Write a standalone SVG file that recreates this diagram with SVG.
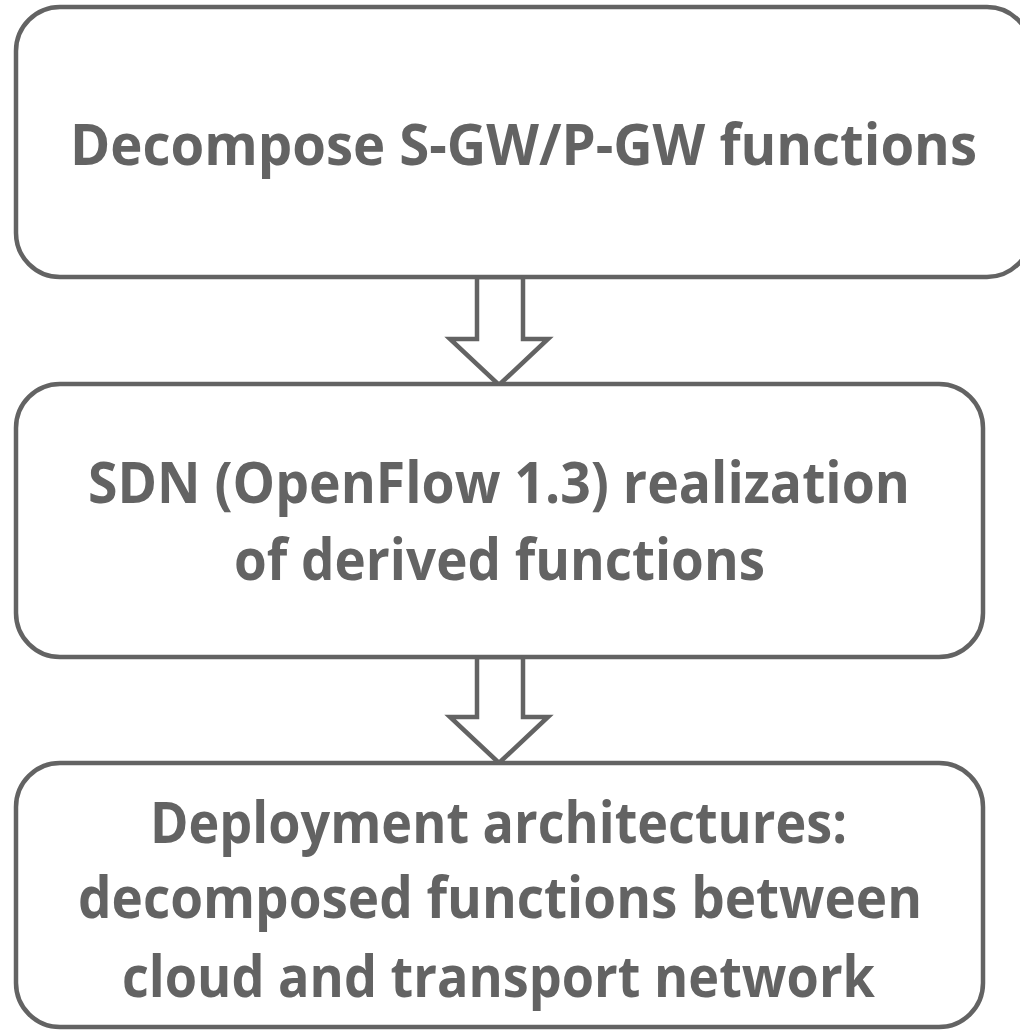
<svg xmlns="http://www.w3.org/2000/svg" width="1020" height="1032" viewBox="0 0 1020 1032">
<style>
.box{fill:#ffffff;stroke:#636363;stroke-width:4.5}
.arr{fill:#ffffff;stroke:#636363;stroke-width:4.5;stroke-linejoin:miter}
.t{font-family:"Open Sans","Liberation Sans",sans-serif;font-weight:bold;font-size:57px;fill:#636363;text-anchor:middle}
</style>
<rect width="1020" height="1032" fill="#ffffff"/>
<g id="connectors">
<polygon class="arr" points="477,277 523,277 523,339 548,339 499,385 450,339 477,339"/>
<polygon class="arr" points="477,657 523,657 523,717 548,717 499,763 450,717 477,717"/>
</g>
<g id="node1">
<rect class="box" x="16" y="7" width="1015" height="270" rx="44" ry="44"/>
<text class="t" x="523.5" y="165" textLength="907" lengthAdjust="spacingAndGlyphs">Decompose S-GW/P-GW functions</text>
</g>
<g id="node2">
<rect class="box" x="16" y="384" width="967" height="273" rx="44" ry="44"/>
<text class="t" x="499" y="503" textLength="822" lengthAdjust="spacingAndGlyphs">SDN (OpenFlow 1.3) realization</text>
<text class="t" x="499.5" y="580" textLength="531" lengthAdjust="spacingAndGlyphs">of derived functions</text>
</g>
<g id="node3">
<rect class="box" x="16" y="763" width="967" height="264" rx="44" ry="44"/>
<text class="t" x="498.5" y="843" textLength="697" lengthAdjust="spacingAndGlyphs">Deployment architectures:</text>
<text class="t" x="500" y="918" textLength="844" lengthAdjust="spacingAndGlyphs">decomposed functions between</text>
<text class="t" x="498.5" y="997" textLength="753" lengthAdjust="spacingAndGlyphs">cloud and transport network</text>
</g>
</svg>
